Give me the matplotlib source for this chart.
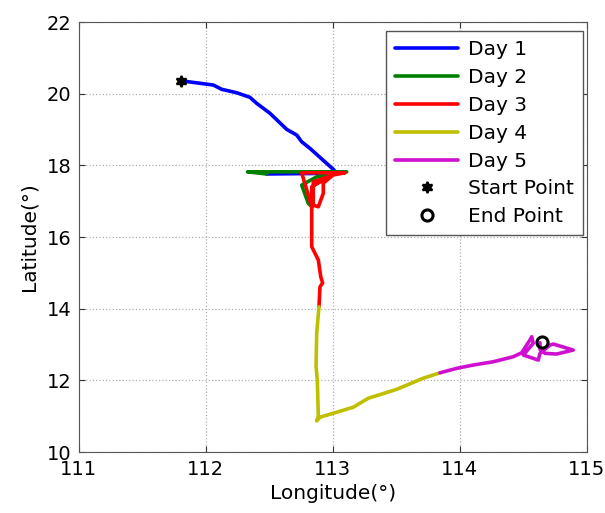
import matplotlib
matplotlib.use("Agg")
import matplotlib.pyplot as plt

plt.rcParams['font.family'] = ['DejaVu Sans']

day1_lon = [111.804, 112.061, 112.127, 112.245, 112.349, 112.402, 112.507, 112.638, 112.717, 112.756, 112.821, 113.005, 113.03, 112.48]
day1_lat = [20.362, 20.242, 20.122, 20.027, 19.899, 19.731, 19.452, 19.005, 18.846, 18.659, 18.475, 17.889, 17.78, 17.76]

day2_lon = [112.48, 112.33, 113.11, 112.874, 112.756, 112.808, 112.835]
day2_lat = [17.76, 17.82, 17.82, 17.68, 17.45, 16.94, 16.85]

day3_lon = [112.835, 112.756, 113.097, 113.002, 112.926, 112.926, 112.887, 112.847, 112.847, 112.979, 112.835, 112.835, 112.887, 112.906, 112.921, 112.900, 112.892]
day3_lat = [16.85, 17.794, 17.794, 17.73, 17.50, 17.22, 16.845, 16.89, 17.54, 17.70, 17.40, 15.73, 15.36, 14.89, 14.72, 14.61, 14.05]

day4_lon = [112.892, 112.874, 112.869, 112.879, 112.887, 112.874, 112.900, 113.162, 113.280, 113.504, 113.713, 113.844]
day4_lat = [14.05, 13.31, 12.38, 12.01, 10.985, 10.87, 10.97, 11.25, 11.50, 11.75, 12.06, 12.21]

day5_lon = [113.844, 113.976, 114.106, 114.264, 114.421, 114.487, 114.552, 114.566, 114.578, 114.500, 114.618, 114.631, 114.710, 114.736, 114.893, 114.762, 114.670, 114.631, 114.631]
day5_lat = [12.21, 12.335, 12.427, 12.519, 12.659, 12.770, 13.125, 13.217, 13.033, 12.706, 12.566, 12.754, 12.985, 13.013, 12.846, 12.734, 12.754, 12.865, 13.05]

start_pt = (111.804, 20.362)
end_pt = (114.645, 13.06)

labels = ['Day 1', 'Day 2', 'Day 3', 'Day 4', 'Day 5', 'Start Point', 'End Point']
colors = ['#0000ff', '#008000', '#ff0000', '#bfbf00', '#d010d0']

x_ticks = [111, 112, 113, 114, 115]
y_ticks = [10, 12, 14, 16, 18, 20, 22]

fig = plt.figure(figsize=(6.05, 5.13), dpi=100)
ax = fig.add_axes([0.1298, 0.1189, 0.8402, 0.8381])

days = [(day1_lon, day1_lat), (day2_lon, day2_lat), (day3_lon, day3_lat),
        (day4_lon, day4_lat), (day5_lon, day5_lat)]
for (lo, la), c, lab in zip(days, colors, labels[:5]):
    ax.plot(lo, la, color=c, lw=2.6, label=lab, solid_capstyle='round', solid_joinstyle='round')

ax.plot([start_pt[0]], [start_pt[1]], linestyle='none', marker=(6, 1, 0), markersize=8,
        color='black', markeredgewidth=1.5, label=labels[5])
ax.plot([end_pt[0]], [end_pt[1]], linestyle='none', marker='o', markersize=8,
        markerfacecolor='none', markeredgecolor='black', markeredgewidth=2.2, label=labels[6])

ax.set_xlim(111, 115)
ax.set_ylim(10, 22)
ax.set_xticks(x_ticks)
ax.set_yticks(y_ticks)
ax.grid(True, linestyle=':', color='#b0b0b0', linewidth=0.9)
ax.tick_params(direction='in', labelsize=14, length=4, top=True, right=True,
               colors='#333333', labelcolor='black')
ax.tick_params(axis='x', pad=6)
ax.tick_params(axis='y', pad=5)
for s in ax.spines.values():
    s.set_color('#555555')
    s.set_linewidth(0.8)

ax.set_xlabel('Longitude(°)', fontsize=14.5, labelpad=3)
ax.set_ylabel('Latitude(°)', fontsize=14.5, labelpad=6)

leg = ax.legend(loc='upper right', fontsize=14.5, handlelength=3.1, labelspacing=0.44,
                handletextpad=0.5, borderpad=0.45, borderaxespad=0, fancybox=False,
                framealpha=1, bbox_to_anchor=(0.992, 0.979))
leg.get_frame().set_edgecolor('#555555')
leg.get_frame().set_linewidth(1.0)

fig.savefig('out.png', dpi=100)
